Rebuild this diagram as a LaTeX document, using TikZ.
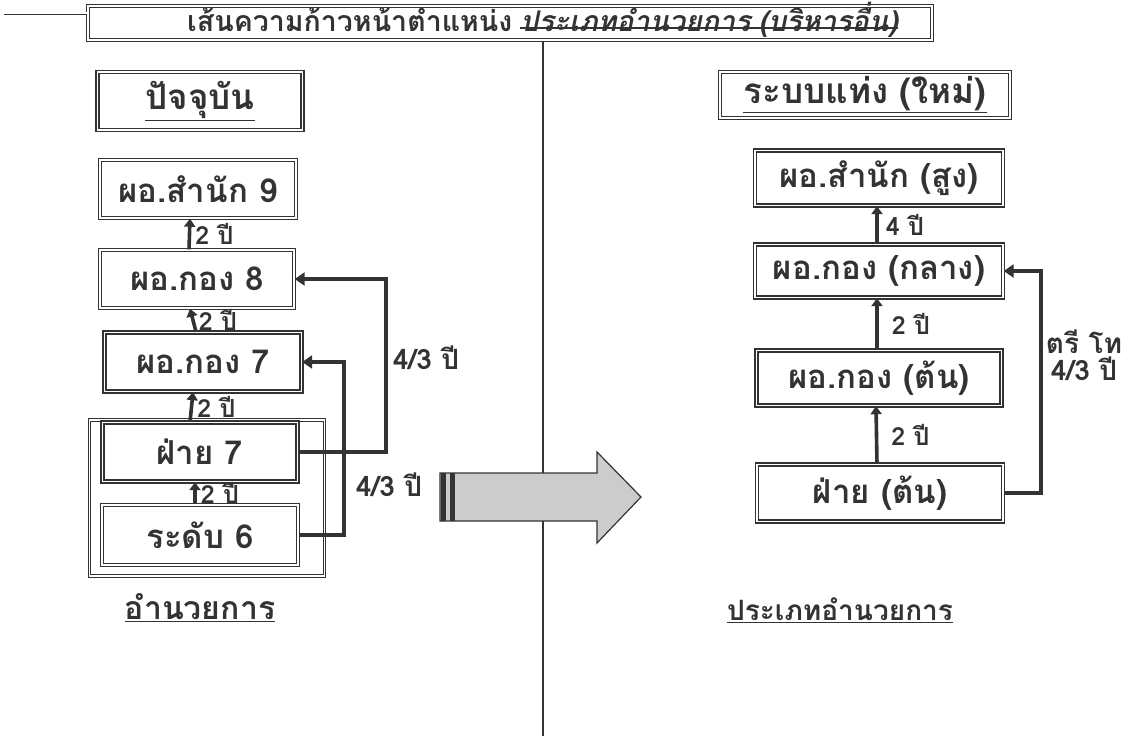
\documentclass[tikz,border=0pt]{standalone}
\usepackage{fontspec}
\newfontfamily\thai[Script=Thai]{Loma}
\newfontfamily\thaiit[Script=Thai,FakeSlant=0.2]{Loma}
\usetikzlibrary{arrows.meta}
\definecolor{ink}{gray}{0.2}
\tikzset{
  boxnode/.style={draw=ink, line width=1.4pt, double=white, double distance=1.3pt,
    inner sep=0pt, text=ink, font=\thai\bfseries\fontsize{33}{36}\selectfont},
  headnode/.style={boxnode, font=\thai\bfseries\fontsize{35}{38}\selectfont},
  groupbox/.style={draw=ink, line width=0.9pt, double=white, double distance=1.6pt, inner sep=0pt},
  steplabel/.style={text=ink, font=\thai\bfseries\fontsize{25}{28}\selectfont, inner sep=1pt},
  looplabel/.style={text=ink, font=\thai\bfseries\fontsize{28}{27}\selectfont, inner sep=1pt},
  captext/.style={text=ink, font=\thai\bfseries\fontsize{28}{31}\selectfont, inner sep=0pt},
  titleit/.style={captext, font=\thaiit\bfseries\fontsize{28.5}{31}\selectfont, anchor=base west},
  uparrow/.style={draw=ink, line width=3.6pt, -{Triangle[length=8pt,width=11pt]}},
  looparrow/.style={draw=ink, line width=4pt, -{Triangle[length=10pt,width=13pt]}},
}
\begin{document}
\begin{tikzpicture}[x=1pt,y=-1pt]
\useasboundingbox (0,0) rectangle (1124,736);
% title
\node[boxnode, minimum width=844pt, minimum height=34pt] (title) at (510,23) {};
\node[captext, font=\thai\bfseries\fontsize{28.5}{31}\selectfont, anchor=base west] (titleA) at (187,31) {เส้นความก้าวหน้าตำแหน่ง};
\node[titleit] (titleB) at ([xshift=8pt]titleA.base east) {ประเภทอำนวยการ};
\node[titleit] (titleC) at ([xshift=8pt]titleB.base east) {(บริหารอื่น)};
\draw[ink, line width=1.3pt] ([yshift=3pt]titleB.base west) -- ([yshift=3pt]titleC.base east);
\coordinate (deco1) at (4,13);
\draw[ink, line width=0.9pt, double=white, double distance=1.2pt] (deco1) -- (title.west |- deco1);
% center divider
\coordinate (divbot) at (543,736);
\draw[ink, line width=1.3pt] (title.south -| divbot) -- (divbot);
% ---------- left: current ----------
\node[headnode, minimum width=205pt, minimum height=58pt] (now) at (200,101) {\underline{ปัจจุบัน}};
\node[boxnode, minimum width=196pt, minimum height=58pt] (L9) at (198,189) {ผอ.สำนัก 9};
\node[boxnode, minimum width=194pt, minimum height=58pt] (L8) at (197,279) {ผอ.กอง 8};
\node[boxnode, minimum width=197pt, minimum height=59pt] (L7) at (203,362) {ผอ.กอง 7};
\node[groupbox, minimum width=235pt, minimum height=156pt] (grp) at (207,498) {};
\node[boxnode, minimum width=195pt, minimum height=59pt] (F7) at (200,452) {ฝ่าย 7};
\node[boxnode, minimum width=196pt, minimum height=60pt] (R6) at (200,535) {ระดับ 6};
\node[captext, font=\thai\bfseries\fontsize{32}{35}\selectfont] (leftcap) at (200,608) {\underline{อำนวยการ}};
% step arrows left
\draw[uparrow] ([xshift=-8pt]L8.north) -- ([xshift=-8pt]L9.south) node[midway, right=3pt, steplabel] {2 ปี};
\draw[uparrow] ([xshift=-7pt]L7.north) -- ([xshift=-7pt]L8.south) node[midway, right=3pt, steplabel] {2 ปี};
\draw[uparrow] ([xshift=-10pt]F7.north) -- ([xshift=-10pt]L7.south) node[midway, right=3pt, steplabel] {2 ปี};
\draw[uparrow] ([xshift=-5pt]R6.north) -- ([xshift=-5pt]F7.south) node[midway, right=3pt, steplabel] {2 ปี};
% loop arrows left
\draw[looparrow] (F7.east) -- ++(88,0) coordinate (c1) |- (L8.east);
\node[looplabel] (lab1) at (426,358) {4/3 ปี};
\draw[looparrow] (R6.east) -- ++(45,0) coordinate (c2) |- (L7.east);
\node[looplabel] (lab2) at (389,485) {4/3 ปี};
% big arrow
\path[draw=ink, line width=1.2pt, fill=gray!40]
  (440,473) -- (597,473) -- (597,452) -- (641,497) -- (597,543) -- (597,521) -- (440,521) -- cycle;
\fill[ink] (441,473) rectangle (446,521);
\fill[ink] (450,473) rectangle (455,521);
% ---------- right: new ----------
\node[headnode, minimum width=290pt, minimum height=46pt] (newsys) at (865,95) {\underline{ระบบแท่ง (ใหม่)}};
\node[boxnode, minimum width=248pt, minimum height=55pt] (S) at (879,178) {ผอ.สำนัก (สูง)};
\node[boxnode, minimum width=248pt, minimum height=53pt] (K) at (879,271) {ผอ.กอง (กลาง)};
\node[boxnode, minimum width=245pt, minimum height=55pt] (T) at (879,378) {ผอ.กอง (ต้น)};
\node[boxnode, minimum width=246pt, minimum height=57pt] (FF) at (880,493) {ฝ่าย (ต้น)};
\node[captext] (rightcap) at (840,610) {\underline{ประเภทอำนวยการ}};
\draw[uparrow] ([xshift=-2pt]K.north) -- ([xshift=-2pt]S.south) node[midway, right=6pt, steplabel] {4 ปี};
\draw[uparrow] ([xshift=-2pt]T.north) -- ([xshift=-2pt]K.south) node[midway, right=12pt, steplabel] {2 ปี};
\draw[uparrow] ([xshift=-3pt]FF.north) -- ([xshift=-3pt]T.south) node[midway, right=12pt, steplabel] {2 ปี};
\draw[looparrow] (FF.east) -- ++(37,0) coordinate (c3) |- (K.east);
\node[looplabel, align=center] (lab3) at (1084,355) {ตรี โท\\4/3 ปี};
\end{tikzpicture}
\end{document}
